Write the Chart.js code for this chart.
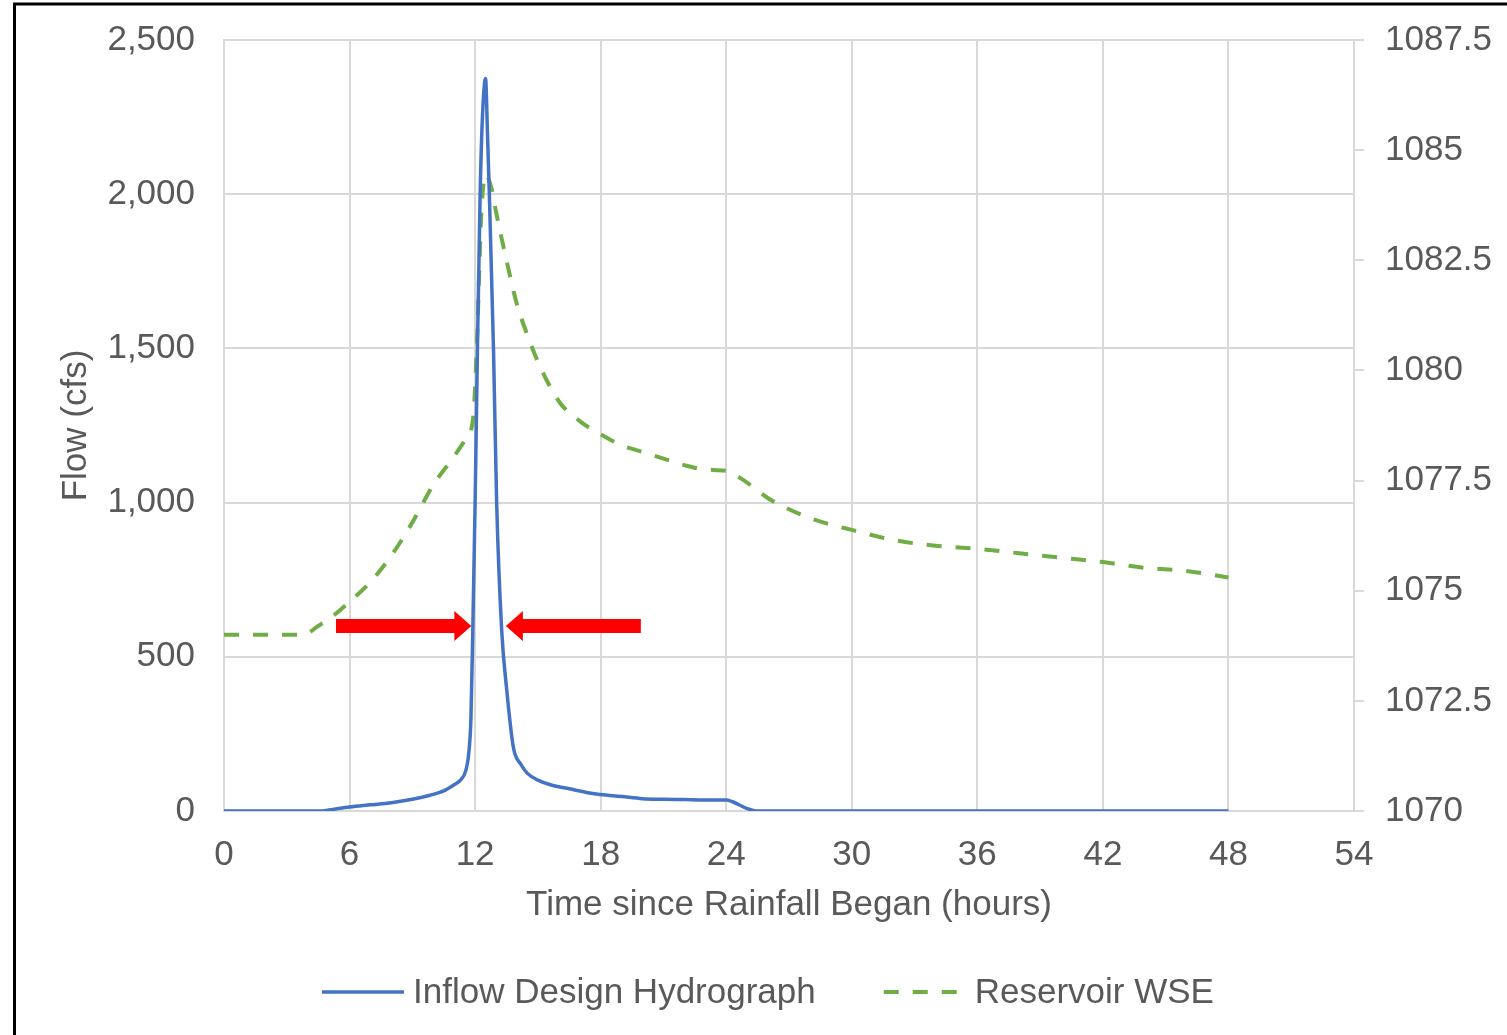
<!DOCTYPE html>
<html><head><meta charset="utf-8">
<script src="https://cdn.jsdelivr.net/npm/chart.js@4.4.0/dist/chart.umd.min.js"></script>
<style>html,body{margin:0;padding:0;background:#fff;} #wrap{position:relative;width:1507px;height:1035px;}</style>
</head><body><div id="wrap"><canvas id="c" width="1507" height="1035"></canvas></div>
<script>
// ---- data ----
const inflowHours = [0, 4.6, 5, 6, 7, 8, 9, 9.85, 10.5, 11, 11.3, 11.55, 11.7, 11.8, 11.89, 12.0, 12.11, 12.24, 12.35, 12.5, 12.59, 12.68, 12.88, 13.03, 13.27, 13.5, 13.83, 14.2, 14.5, 15, 15.6, 16.5, 17.8, 19, 20, 21, 22, 23, 24, 24.3, 25, 25.5, 30, 36, 42, 48];
const inflowCfs   = [0, 0, 3, 13, 20, 27, 38, 51, 65, 85, 100, 130, 190, 300, 586, 998, 1493, 2000, 2250, 2375, 2200, 2000, 1493, 998, 586, 400, 206, 150, 122, 100, 85, 72, 55, 47, 40, 38, 37, 36, 36, 30, 8, 0, 0, 0, 0, 0];
const wseHours = [0, 3.8, 4.5, 5, 6, 7, 8, 9, 10, 11, 11.5, 11.9, 12.1, 12.2, 12.3, 12.5, 12.8, 13.0, 13.5, 14, 14.5, 15, 16, 17, 18, 19, 20, 21, 22, 23, 24, 24.7, 26, 27, 28, 29, 30, 32, 34, 36, 38, 40, 42, 44, 46, 48];
const wseFt    = [1074.0, 1074.0, 1074.2, 1074.35, 1074.75, 1075.2, 1075.8, 1076.55, 1077.4, 1078.05, 1078.4, 1078.9, 1080.8, 1082.3, 1083.6, 1084.45, 1084.1, 1083.6, 1082.5, 1081.5, 1080.8, 1080.2, 1079.3, 1078.85, 1078.55, 1078.3, 1078.15, 1078.0, 1077.85, 1077.75, 1077.72, 1077.55, 1077.1, 1076.85, 1076.65, 1076.5, 1076.38, 1076.15, 1076.02, 1075.95, 1075.85, 1075.75, 1075.65, 1075.52, 1075.45, 1075.3];
const xTickValues = [0, 6, 12, 18, 24, 30, 36, 42, 48, 54];
const flowTickValues = [0, 500, 1000, 1500, 2000, 2500];
const flowTickLabels = ['0', '500', '1,000', '1,500', '2,000', '2,500'];
const wseTickValues = [1070, 1072.5, 1075, 1077.5, 1080, 1082.5, 1085, 1087.5];
const wseTickLabels = ['1070', '1072.5', '1075', '1077.5', '1080', '1082.5', '1085', '1087.5'];
const seriesNames = ['Inflow Design Hydrograph', 'Reservoir WSE'];
// annotation arrows (in data units: flow level, start hour, tip hour)
const arrowFlow = 600;
const arrowFromHours = [5.35, 19.92];
const arrowTipHours = [11.82, 13.47];

const TXT = '#595959';
const GRID = '#D9D9D9';
const FONT = {family: '"Liberation Sans", Arial, sans-serif', size: 35, lineHeight: 1.2};

const inflowPts = inflowHours.map((h, i) => ({x: h, y: inflowCfs[i]}));
const wsePts = wseHours.map((h, i) => ({x: h, y: wseFt[i]}));

const framePlugin = {
  id: 'frame',
  beforeDraw(chart) {
    const ctx = chart.ctx;
    ctx.save();
    ctx.fillStyle = '#fff';
    ctx.fillRect(0, 0, chart.width, chart.height);
    ctx.restore();
  },
  afterDraw(chart) {
    const ctx = chart.ctx;
    ctx.save();
    ctx.strokeStyle = '#000';
    ctx.lineWidth = 3;
    ctx.beginPath();
    ctx.moveTo(14.5, 2.5); ctx.lineTo(14.5, chart.height);
    ctx.moveTo(13, 4); ctx.lineTo(chart.width, 4);
    ctx.stroke();
    ctx.restore();
  }
};

const arrowPlugin = {
  id: 'arrows',
  afterDatasetsDraw(chart) {
    const ctx = chart.ctx, xs = chart.scales.x, ys = chart.scales.y;
    const yp = ys.getPixelForValue(arrowFlow);
    ctx.save();
    ctx.fillStyle = '#FF0000';
    for (let i = 0; i < arrowFromHours.length; i++) {
      const x0 = xs.getPixelForValue(arrowFromHours[i]);
      const x1 = xs.getPixelForValue(arrowTipHours[i]);
      const dir = x1 > x0 ? 1 : -1;
      const head = 17, half = 7, hh = 15;
      const xb = x1 - dir * head;
      ctx.beginPath();
      ctx.moveTo(x0, yp - half);
      ctx.lineTo(xb, yp - half);
      ctx.lineTo(xb, yp - hh);
      ctx.lineTo(x1, yp);
      ctx.lineTo(xb, yp + hh);
      ctx.lineTo(xb, yp + half);
      ctx.lineTo(x0, yp + half);
      ctx.closePath();
      ctx.fill();
    }
    ctx.restore();
  }
};

const legendPlugin = {
  id: 'customLegend',
  afterDraw(chart) {
    const ctx = chart.ctx;
    ctx.save();
    ctx.font = FONT.size + 'px ' + FONT.family;
    ctx.textBaseline = 'middle';
    ctx.fillStyle = TXT;
    const y = 992;
    const lineW = 82, gapText = 9, gapItem = 68;
    const ds = chart.data.datasets;
    const widths = ds.map(d => ctx.measureText(d.label).width);
    const total = ds.length * (lineW + gapText) + widths.reduce((a, b) => a + b, 0) + gapItem * (ds.length - 1);
    let x = 768 - total / 2;
    ds.forEach((d, i) => {
      ctx.save();
      ctx.strokeStyle = d.borderColor;
      ctx.lineWidth = d.borderWidth;
      ctx.setLineDash(d.borderDash || []);
      ctx.beginPath();
      ctx.moveTo(x, y); ctx.lineTo(x + lineW, y);
      ctx.stroke();
      ctx.restore();
      x += lineW + gapText;
      ctx.fillText(d.label, x, y + 1);
      x += widths[i] + gapItem;
    });
    ctx.restore();
  }
};

const noPad = s => { s.paddingTop = 0; s.paddingBottom = 0; };

new Chart(document.getElementById('c'), {
  type: 'line',
  data: {
    datasets: [
      {label: seriesNames[0], data: inflowPts, yAxisID: 'y', borderColor: '#4472C4', backgroundColor: '#4472C4',
       borderWidth: 3.5, pointRadius: 0, cubicInterpolationMode: 'monotone', fill: false},
      {label: seriesNames[1], data: wsePts, yAxisID: 'y2', borderColor: '#70AD47', backgroundColor: '#70AD47',
       borderWidth: 4, borderDash: [15, 14], pointRadius: 0, cubicInterpolationMode: 'monotone', fill: false}
    ]
  },
  options: {
    responsive: false,
    animation: false,
    devicePixelRatio: 1,
    layout: {autoPadding: false, padding: {top: 40, left: 0, right: 0, bottom: 0}},
    plugins: {legend: {display: false}, tooltip: {enabled: false}},
    scales: {
      x: {
        type: 'linear', min: 0, max: 54,
        afterBuildTicks: s => { s.ticks = xTickValues.map(v => ({value: v})); },
        afterFit: s => { s.height = 224; },
        grid: {color: GRID, lineWidth: 2, drawTicks: false},
        border: {color: GRID, width: 2},
        ticks: {font: FONT, color: TXT, padding: 23, maxRotation: 0, autoSkip: false, callback: v => String(v)},
        title: {display: true, text: 'Time since Rainfall Began (hours)', font: FONT, color: TXT, padding: {top: 0, bottom: 109}}
      },
      y: {
        type: 'linear', position: 'left', min: 0, max: 2500,
        afterBuildTicks: s => { s.ticks = flowTickValues.map(v => ({value: v})); },
        afterFit: s => { s.width = 224; noPad(s); },
        grid: {color: GRID, lineWidth: 2, drawTicks: false},
        border: {color: GRID, width: 2},
        ticks: {font: FONT, color: TXT, padding: 29, callback: (v) => flowTickLabels[flowTickValues.indexOf(v)]},
        title: {display: true, text: 'Flow (cfs)', font: FONT, color: TXT, padding: {top: 55, bottom: 0}}
      },
      y2: {
        type: 'linear', position: 'right', min: 1070, max: 1087.5,
        afterBuildTicks: s => { s.ticks = wseTickValues.map(v => ({value: v})); },
        afterFit: s => { s.width = 153; noPad(s); },
        grid: {drawOnChartArea: false, color: GRID, lineWidth: 2, drawTicks: true, tickLength: 10},
        border: {color: GRID, width: 2},
        ticks: {font: FONT, color: TXT, padding: 21, callback: (v) => wseTickLabels[wseTickValues.indexOf(v)]}
      }
    }
  },
  plugins: [framePlugin, arrowPlugin, legendPlugin]
});
</script>
</body></html>
